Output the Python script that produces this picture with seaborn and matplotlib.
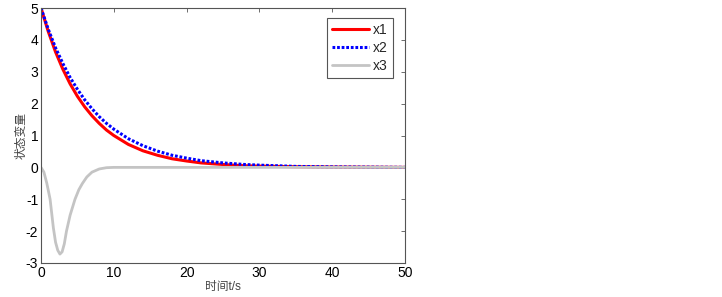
import numpy
import pandas
import seaborn
import matplotlib.pyplot as pyplot

seaborn.set_theme(style="white")
pyplot.rcParams['font.family'] = ['Liberation Sans', 'Noto Sans CJK SC', 'DejaVu Sans']
pyplot.rcParams['axes.unicode_minus'] = False

# values
t_slow = [0, 1, 2, 3, 4, 5, 6, 7, 8, 9, 10, 12, 14, 16, 18, 20, 22, 25, 28, 30, 35, 40, 45, 50]
x1 = [5.0, 4.26, 3.62, 3.08, 2.62, 2.23, 1.90, 1.62, 1.38, 1.17, 1.0, 0.72, 0.52, 0.38, 0.27, 0.20,
      0.14, 0.09, 0.05, 0.04, 0.02, 0.01, 0.005, 0.0]
x2 = [5.0, 4.33, 3.75, 3.26, 2.82, 2.45, 2.12, 1.84, 1.59, 1.38, 1.20, 0.90, 0.68, 0.51, 0.38, 0.29,
      0.21, 0.14, 0.09, 0.07, 0.03, 0.015, 0.007, 0.0]
t_fast = [0, 0.4, 0.8, 1.0, 1.25, 1.5, 1.7, 2.0, 2.3, 2.6, 2.9, 3.2, 3.5, 4.0, 4.67, 5.2, 5.7,
          6.3, 7.0, 8.0, 9.0, 10, 20, 30, 40, 50]
x3 = [0.0, -0.15, -0.5, -0.72, -1.0, -1.5, -1.9, -2.35, -2.6, -2.72, -2.65, -2.4, -2.0, -1.5,
      -1.0, -0.7, -0.5, -0.3, -0.15, -0.05, -0.01, 0.0, 0.0, 0.0, 0.0, 0.0]

xticks = [0, 10, 20, 30, 40, 50]
yticks = [-3, -2, -1, 0, 1, 2, 3, 4, 5]

slow = pandas.DataFrame({"t": t_slow, "x1": x1, "x2": x2})
fast = pandas.DataFrame({"t": t_fast, "x3": x3})

fig = pyplot.figure(figsize=(7.22, 2.97), dpi=100)
ax = fig.add_axes([41/722, 34/297, 364/722, 255/297])

seaborn.lineplot(data=slow, x="t", y="x1", color="#ff0000", linewidth=2.2, label="x1", ax=ax)
seaborn.lineplot(data=slow, x="t", y="x2", color="#0000ff", linewidth=2.2, linestyle=(0, (0.9, 0.6)),
                 label="x2", ax=ax)
seaborn.lineplot(data=fast, x="t", y="x3", color="#c4c4c4", linewidth=2.0, label="x3", ax=ax)

ax.set_xlim(0, 50)
ax.set_ylim(-3, 5)
ax.set_xticks(xticks)
ax.set_yticks(yticks)
ax.tick_params(direction="in", length=3, top=True, right=True, labelsize=10, colors="black",
               width=0.6, pad=2)
ax.tick_params(axis="both", colors="#555555", labelcolor="black")
for s in ax.spines.values():
    s.set_visible(True)
    s.set_color("#555555")
    s.set_linewidth(0.8)

ax.set_xlabel("时间t/s", fontsize=8.5, color="#444444", labelpad=1,
              family=['Liberation Sans', 'Noto Sans CJK SC'])
ax.set_ylabel("状态变量", fontsize=8.5, color="#444444",
              family=['Noto Sans CJK SC', 'Liberation Sans'])
ax.yaxis.set_label_coords(-0.038, 0.5)

leg = ax.legend(loc="upper right", bbox_to_anchor=(0.967, 0.961), fontsize=10, fancybox=False,
                framealpha=1, edgecolor="#555555", handlelength=2.7, borderpad=0.35,
                labelspacing=0.3, handletextpad=0.3, borderaxespad=0)
leg.get_frame().set_linewidth(0.8)

fig.savefig("out.png", dpi=100)
